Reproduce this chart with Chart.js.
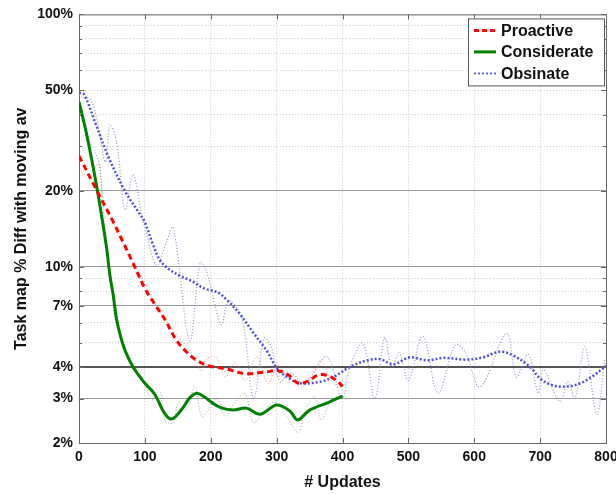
<!DOCTYPE html>
<html>
<head>
<meta charset="utf-8">
<script src="https://cdn.jsdelivr.net/npm/chart.js@4.4.1/dist/chart.umd.min.js"></script>
<style>
  html, body { margin: 0; padding: 0; background: #fff; }
</style>
</head>
<body>
<canvas id="chart" width="616" height="494"></canvas>
<script>
// smoothed series (x = # updates, y = % diff)
const proactiveX = [0, 25, 50, 67, 80, 100, 115, 130, 146, 161, 176, 196, 222, 252, 282, 302, 318, 333, 348, 363, 378, 393, 400];
const proactive = [27.5, 20.5, 15.4, 12.5, 10.6, 8.2, 7.1, 6.2, 5.2, 4.65, 4.3, 4.05, 3.94, 3.77, 3.82, 3.87, 3.72, 3.45, 3.52, 3.72, 3.7, 3.5, 3.35];

const considerateX = [0, 10, 20, 28, 35, 42, 47, 52, 57, 63, 70, 82, 100, 115, 130, 141, 156, 168, 179, 190, 201, 215, 234, 254, 275, 300, 320, 332, 350, 379, 400];
const considerate = [45, 35, 26, 20, 15.5, 11.8, 9.2, 7.7, 6.2, 5.3, 4.64, 4.0, 3.45, 3.12, 2.62, 2.49, 2.72, 3.02, 3.15, 3.05, 2.9, 2.76, 2.7, 2.75, 2.6, 2.83, 2.68, 2.47, 2.7, 2.9, 3.07];

const obsinateX = [0, 8, 25, 44, 70, 90, 100, 112, 123, 136, 153, 170, 190, 211, 224, 244, 264, 285, 302, 320, 335, 366, 386, 411, 437, 457, 477, 502, 528, 553, 588, 613, 639, 659, 685, 700, 720, 740, 760, 781, 800];
const obsinate = [49, 48, 37, 27.5, 19.9, 16.5, 15, 12.3, 10.6, 9.8, 9.2, 8.8, 8.2, 7.9, 7.4, 6.5, 5.5, 4.64, 3.9, 3.6, 3.45, 3.5, 3.65, 4.0, 4.25, 4.3, 4.1, 4.37, 4.25, 4.35, 4.28, 4.37, 4.6, 4.45, 4.0, 3.6, 3.38, 3.35, 3.44, 3.7, 4.05];

// raw (unsmoothed) series
const proactiveRawX = [0, 15, 30, 36, 60, 90, 120, 150, 171, 186, 191, 207, 222, 237, 252, 270, 287, 302, 315, 328, 338, 353, 368, 381, 393, 400];
const proactiveRaw = [24, 23, 25.5, 19, 13.5, 9.6, 6.8, 5.3, 4.55, 3.87, 4.25, 4.4, 3.65, 4.15, 3.54, 4.4, 3.44, 4.05, 3.7, 3.44, 3.3, 3.75, 4.25, 3.6, 3.35, 3.3];

const considerateRawX = [0, 12, 20, 30, 36, 42, 50, 55, 70, 85, 100, 110, 123, 130, 143, 151, 163, 176, 186, 196, 209, 222, 237, 252, 265, 282, 297, 315, 333, 343, 358, 368, 383, 399];
const considerateRaw = [44, 33, 30, 26, 18, 12, 8.2, 6.1, 4.8, 4.0, 3.44, 2.97, 3.2, 2.47, 2.4, 2.9, 2.7, 3.35, 2.55, 2.7, 3.0, 2.55, 2.9, 3.15, 2.4, 2.7, 2.9, 2.55, 2.2, 2.7, 3.05, 2.47, 2.97, 3.05];

const obsinateRawX = [0, 4, 17, 27, 40, 47, 57, 70, 82, 95, 103, 118, 133, 143, 168, 184, 194, 216, 227, 247, 265, 281, 292, 305, 320, 343, 376, 399, 411, 431, 449, 464, 475, 486, 500, 522, 545, 571, 586, 609, 649, 664, 682, 697, 705, 730, 742, 753, 768, 786, 798];
const obsinateRaw = [48, 47, 46, 38.7, 26, 36.5, 31.3, 16.8, 23.2, 16.1, 13.4, 10.1, 12.6, 14.3, 5.1, 10.4, 9.5, 5.9, 7.3, 6.3, 3.0, 5.2, 4.8, 3.5, 3.8, 3.44, 4.4, 3.0, 4.0, 4.96, 3.0, 5.25, 4.0, 4.55, 3.54, 5.3, 3.15, 4.9, 4.6, 3.34, 5.44, 3.65, 4.5, 3.15, 3.9, 2.92, 3.5, 3.0, 4.8, 2.6, 4.25];

// axes
const xTicks = [0, 100, 200, 300, 400, 500, 600, 700, 800];
const yTicks = [2, 3, 4, 5, 6, 7, 8, 9, 10, 20, 30, 40, 50, 60, 70, 80, 90, 100];
const yLabels = [2, 3, 4, 7, 10, 20, 50, 100];
const ySolid = [3, 4, 7, 10, 20];

const FONT = "'Liberation Sans', Arial, sans-serif";

function pts(xs, ys) {
  return xs.map((x, i) => ({ x: x, y: ys[i] }));
}

const frame = {
  id: 'frame',
  beforeDatasetsDraw(chart) {
    const { ctx, chartArea: a } = chart;
    const xs = chart.scales.x, ys = chart.scales.y;
    ctx.save();
    ctx.strokeStyle = '#666';
    ctx.lineWidth = 1;
    ctx.strokeRect(a.left + 0.5, a.top + 0.5, a.right - a.left, a.bottom - a.top);
    // inward tick marks
    ctx.beginPath();
    xTicks.forEach(v => {
      const px = Math.round(xs.getPixelForValue(v)) + 0.5;
      ctx.moveTo(px, a.bottom); ctx.lineTo(px, a.bottom - 5);
      ctx.moveTo(px, a.top); ctx.lineTo(px, a.top + 5);
    });
    yTicks.forEach(v => {
      const py = Math.round(ys.getPixelForValue(v)) + 0.5;
      const len = yLabels.includes(v) ? 5 : 3;
      ctx.moveTo(a.left, py); ctx.lineTo(a.left + len, py);
      ctx.moveTo(a.right, py); ctx.lineTo(a.right - len, py);
    });
    ctx.stroke();
    ctx.restore();
  }
};

const boxLegend = {
  id: 'boxLegend',
  afterDraw(chart) {
    const { ctx, chartArea: a } = chart;
    const w = 136, h = 67;
    const x0 = a.right - w - 2, y0 = a.top + 4;
    ctx.save();
    ctx.fillStyle = '#fff';
    ctx.fillRect(x0, y0, w, h);
    ctx.strokeStyle = '#555';
    ctx.lineWidth = 1;
    ctx.strokeRect(x0 + 0.5, y0 + 0.5, w, h);
    const items = [
      { label: 'Proactive', color: '#ff0000', dash: [5, 3], width: 3 },
      { label: 'Considerate', color: '#008000', dash: [], width: 3 },
      { label: 'Obsinate', color: '#6a6ae8', dash: [2, 2], width: 2 }
    ];
    ctx.font = 'bold 16px ' + FONT;
    ctx.textBaseline = 'middle';
    items.forEach((it, i) => {
      const y = y0 + 12 + i * 21.5;
      ctx.beginPath();
      ctx.setLineDash(it.dash);
      ctx.strokeStyle = it.color;
      ctx.lineWidth = it.width;
      ctx.moveTo(x0 + 6, y);
      ctx.lineTo(x0 + 28, y);
      ctx.stroke();
      ctx.setLineDash([]);
      ctx.fillStyle = '#111';
      ctx.fillText(it.label, x0 + 33, y + 1);
    });
    ctx.restore();
  }
};

new Chart(document.getElementById('chart'), {
  type: 'line',
  data: {
    datasets: [
      { label: 'Proactive', data: pts(proactiveX, proactive), borderColor: '#ff0000', borderWidth: 3, borderDash: [6, 4], tension: 0.35, order: 1 },
      { label: 'Considerate', data: pts(considerateX, considerate), borderColor: '#008000', borderWidth: 3, tension: 0.35, order: 1 },
      { label: 'Obsinate', data: pts(obsinateX, obsinate), borderColor: '#5050e0', borderWidth: 2.5, borderDash: [2, 2], tension: 0.35, order: 1 },
      { label: 'Proactive raw', data: pts(proactiveRawX, proactiveRaw), borderColor: 'rgba(235,110,110,0.75)', borderWidth: 1, borderDash: [1, 2], tension: 0.35, order: 2 },
      { label: 'Considerate raw', data: pts(considerateRawX, considerateRaw), borderColor: 'rgba(110,150,110,0.8)', borderWidth: 1, borderDash: [1, 2], tension: 0.35, order: 2 },
      { label: 'Obsinate raw', data: pts(obsinateRawX, obsinateRaw), borderColor: 'rgba(130,130,200,0.85)', borderWidth: 1.2, borderDash: [1, 2], tension: 0.35, order: 2 }
    ]
  },
  options: {
    responsive: false,
    animation: false,
    events: [],
    layout: { padding: { top: 12, right: 10, left: 0, bottom: 0 } },
    elements: { point: { radius: 0 } },
    plugins: { legend: { display: false }, tooltip: { enabled: false } },
    scales: {
      x: {
        type: 'linear',
        min: 0,
        max: 800,
        afterBuildTicks: s => { s.ticks = xTicks.map(v => ({ value: v })); },
        afterFit: s => { s.height = 51; s.paddingLeft = 0; s.paddingRight = 0; },
        ticks: { color: '#111', font: { family: FONT, size: 14, weight: 'bold' }, padding: 6, maxRotation: 0 },
        grid: { color: '#c8c8c8', lineWidth: 1, drawTicks: false },
        border: { display: false, dash: [1, 2] },
        title: { display: true, text: '# Updates', color: '#111', font: { family: FONT, size: 16, weight: 'bold' }, padding: { top: 0, bottom: 2 } }
      },
      y: {
        type: 'logarithmic',
        min: 2,
        max: 100,
        afterBuildTicks: s => { s.ticks = yTicks.map(v => ({ value: v })); },
        afterFit: s => { s.width = 79; },
        ticks: {
          color: '#111',
          font: { family: FONT, size: 14, weight: 'bold' },
          padding: 6,
          autoSkip: false,
          callback: v => yLabels.includes(v) ? v + '%' : ''
        },
        grid: {
          drawTicks: false,
          color: c => c.tick && c.tick.value === 4 ? '#555' : (c.tick && ySolid.includes(c.tick.value) ? '#999' : '#cfcfcf'),
          lineWidth: c => c.tick && c.tick.value === 4 ? 2 : 1
        },
        border: { display: false, dash: c => c.tick && ySolid.includes(c.tick.value) ? [] : [1, 2] },
        title: { display: true, text: 'Task map % Diff with moving av', color: '#111', font: { family: FONT, size: 16, weight: 'bold' }, padding: { top: 12, bottom: 0 } }
      }
    }
  },
  plugins: [frame, boxLegend]
});
</script>
</body>
</html>
